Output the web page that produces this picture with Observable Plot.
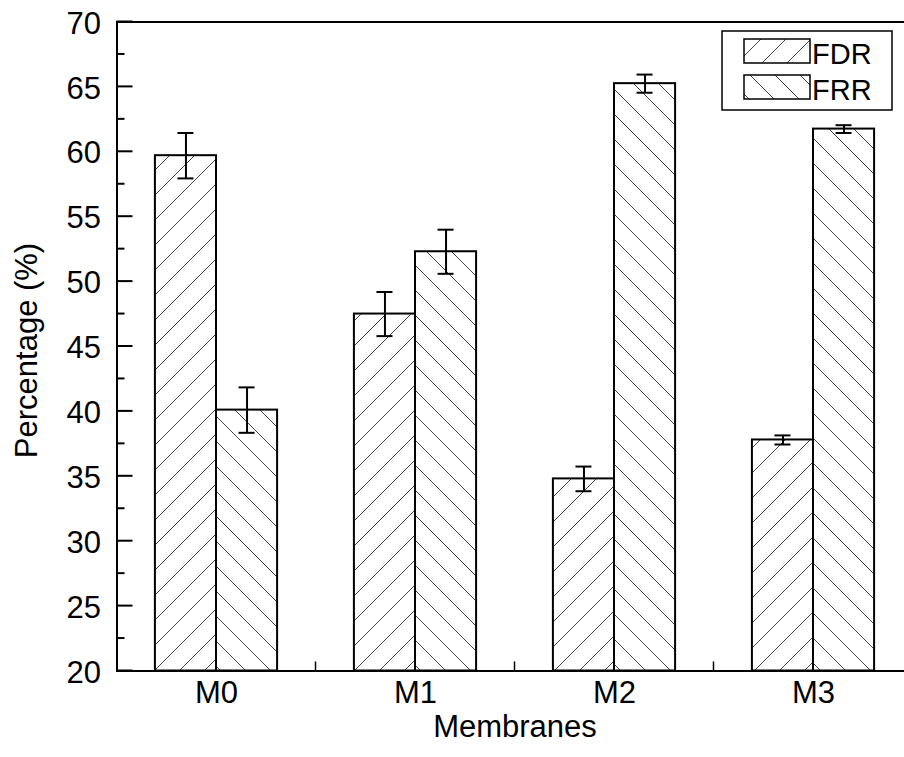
<!DOCTYPE html>
<html><head><meta charset="utf-8">
<script src="https://cdn.jsdelivr.net/npm/d3@7"></script>
<script src="https://cdn.jsdelivr.net/npm/@observablehq/plot@0.6"></script>
<style>body{margin:0;background:#fff;}</style>
</head><body><div id="chart"></div>
<script>
const categories = ["M0", "M1", "M2", "M3"];
const seriesNames = ["FDR", "FRR"];
const fdrValues = [59.7, 47.5, 34.8, 37.8];
const fdrErrors = [1.75, 1.7, 0.95, 0.35];
const frrValues = [40.1, 52.3, 65.25, 61.75];
const frrErrors = [1.75, 1.7, 0.7, 0.3];
const yTicks = [20, 25, 30, 35, 40, 45, 50, 55, 60, 65, 70];
const yMinorTicks = [22.5, 27.5, 32.5, 37.5, 42.5, 47.5, 52.5, 57.5, 62.5, 67.5];
const xMinorTicks = [0.5, 1.5, 2.5];
const xTitle = "Membranes";
const yTitle = "Percentage (%)";

const barW = 0.307;
const rows = [];
categories.forEach((cat, i) => {
  rows.push({cat, series: seriesNames[0], value: fdrValues[i], err: fdrErrors[i], x1: i - barW, x2: i});
  rows.push({cat, series: seriesNames[1], value: frrValues[i], err: frrErrors[i], x1: i, x2: i + barW});
});
rows.forEach(d => d.c = (d.x1 + d.x2) / 2);
const fdrRows = rows.filter(d => d.series === "FDR");
const frrRows = rows.filter(d => d.series === "FRR");

function patternDefs() {
  const g = d3.create("svg:defs");
  const p1 = g.append("pattern").attr("id", "hatchFDR").attr("patternUnits", "userSpaceOnUse").attr("width", 25).attr("height", 25);
  p1.append("rect").attr("width", 25).attr("height", 25).attr("fill", "#fff");
  p1.append("path").attr("d", "M-1,1 l2,-2 M0,25 l25,-25 M24,26 l2,-2").attr("stroke", "#444").attr("stroke-width", 1);
  const p2 = g.append("pattern").attr("id", "hatchFRR").attr("patternUnits", "userSpaceOnUse").attr("width", 25).attr("height", 25);
  p2.append("rect").attr("width", 25).attr("height", 25).attr("fill", "#fff");
  p2.append("path").attr("d", "M-1,24 l2,2 M0,0 l25,25 M24,-1 l2,2").attr("stroke", "#444").attr("stroke-width", 1);
  return g.node();
}

function axisTicks(index, scales, values, dims) {
  const g = d3.create("svg:g").attr("stroke", "#000");
  const x0 = dims.marginLeft;
  const yb = dims.height - dims.marginBottom;
  for (const t of yTicks) g.append("line").attr("x1", x0).attr("x2", x0 + 16).attr("y1", scales.y(t)).attr("y2", scales.y(t)).attr("stroke-width", 2);
  for (const t of yMinorTicks) g.append("line").attr("x1", x0).attr("x2", x0 + 8).attr("y1", scales.y(t)).attr("y2", scales.y(t)).attr("stroke-width", 2);
  for (const t of xMinorTicks) g.append("line").attr("x1", scales.x(t)).attr("x2", scales.x(t)).attr("y1", yb).attr("y2", yb - 9).attr("stroke-width", 1.5);
  return g.node();
}

function legend() {
  const g = d3.create("svg:g");
  g.append("rect").attr("x", 722).attr("y", 31).attr("width", 170).attr("height", 79).attr("fill", "#fff").attr("stroke", "#000").attr("stroke-width", 1.5);
  const ids = ["hatchFDR", "hatchFRR"];
  seriesNames.forEach((s, k) => {
    const y = 39 + k * 36;
    g.append("rect").attr("x", 744).attr("y", y).attr("width", 66).attr("height", 24).attr("fill", `url(#${ids[k]})`).attr("stroke", "#000").attr("stroke-width", 1.5);
    g.append("text").attr("x", 812).attr("y", y + 24.5).attr("font-size", 29).attr("text-anchor", "start").attr("fill", "#000").text(s);
  });
  return g.node();
}

const chart = Plot.plot({
  width: 904, height: 757,
  marginLeft: 116.5, marginRight: -8.5, marginTop: 21.5, marginBottom: 86.5,
  style: {fontFamily: "'Liberation Sans', Arial, sans-serif", fontSize: "31px", color: "#000", background: "#fff"},
  x: {type: "linear", domain: [-0.5, 3.5]},
  y: {domain: [20, 70]},
  marks: [
    patternDefs,
    Plot.rectY(fdrRows, {x1: "x1", x2: "x2", y1: 20, y2: "value", fill: "url(#hatchFDR)", stroke: "#000", strokeWidth: 2}),
    Plot.rectY(frrRows, {x1: "x1", x2: "x2", y1: 20, y2: "value", fill: "url(#hatchFRR)", stroke: "#000", strokeWidth: 2}),
    Plot.ruleX(rows, {x: "c", y1: d => d.value - d.err, y2: d => d.value + d.err, stroke: "#000", strokeWidth: 2}),
    Plot.ruleY(rows, {x1: "c", x2: "c", y: d => d.value - d.err, insetLeft: -8, insetRight: -8, stroke: "#000", strokeWidth: 2}),
    Plot.ruleY(rows, {x1: "c", x2: "c", y: d => d.value + d.err, insetLeft: -8, insetRight: -8, stroke: "#000", strokeWidth: 2}),
    Plot.axisY({ticks: yTicks, tickSize: 0, tickPadding: 16, label: null, dy: 1.7, fontSize: 31}),
    Plot.axisX({ticks: [0, 1, 2, 3], tickFormat: i => categories[i], tickSize: 0, tickPadding: 9.7, label: null, fontSize: 31}),
    Plot.text([yTitle], {frameAnchor: "left", dx: -90, dy: 4, rotate: -90, textAnchor: "middle", text: d => d, fontSize: 31, fill: "#000"}),
    Plot.text([xTitle], {frameAnchor: "bottom", dy: 66.3, text: d => d, fontSize: 31, fill: "#000"}),
    axisTicks,
    Plot.frame({stroke: "#000", strokeWidth: 2}),
    legend
  ]
});
document.getElementById("chart").appendChild(chart);
</script>
</body></html>
